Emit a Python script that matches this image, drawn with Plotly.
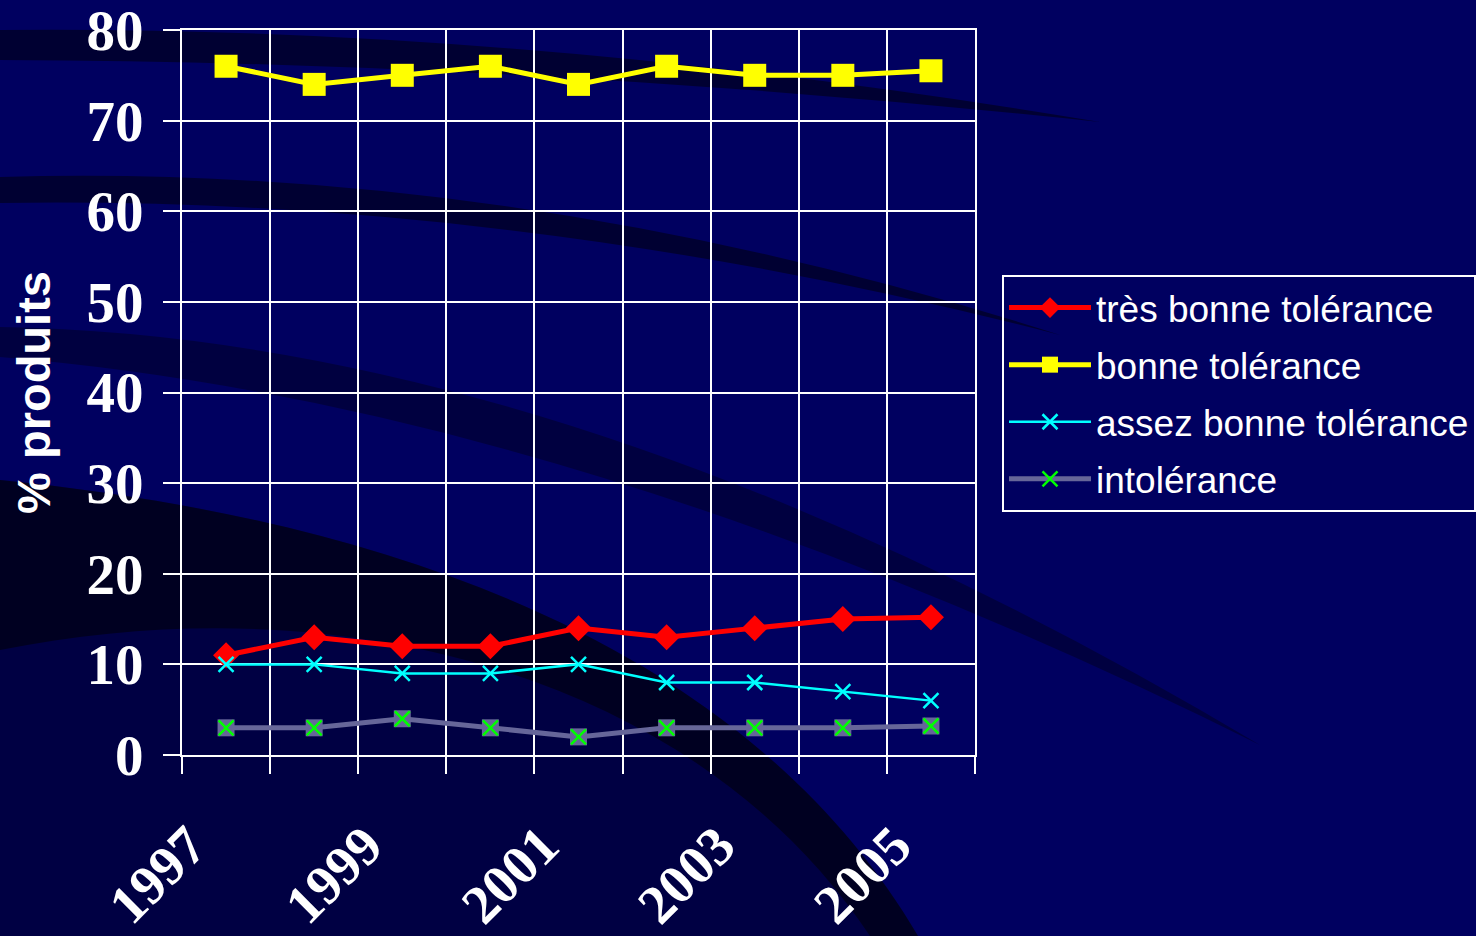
import plotly.graph_objects as go

# ---- data ----
years = [1997, 1998, 1999, 2000, 2001, 2002, 2003, 2004, 2005]
tres_bonne = [11, 13, 12, 12, 14, 13, 14, 15, 15.2]
bonne = [76, 74, 75, 76, 74, 76, 75, 75, 75.5]
assez_bonne = [10, 10, 9, 9, 10, 8, 8, 7, 6]
intolerance = [3, 3, 4, 3, 2, 3, 3, 3, 3.2]
year_ticks = [1997, 1999, 2001, 2003, 2005]
year_labels = ["1997", "1999", "2001", "2003", "2005"]
names = ["très bonne tolérance", "bonne tolérance", "assez bonne tolérance", "intolérance"]

# ---- geometry ----
W, H = 1476, 936
L, R, T, B = 182, 975, 30, 755
PW, PH = R - L, B - T


def P(px, py):
    return f"{(px - L) / PW:.5f},{(B - py) / PH:.5f}"


BG = "#000060"

shapes = []


def add_path(d, color):
    shapes.append(dict(type="path", xref="paper", yref="paper", path=d,
                       fillcolor=color, line=dict(width=0), layer="below"))


# decorative swooshes of the slide background (tapered ends)
add_path(f"M{P(0,30)} Q{P(520,25)} {P(1100,122)} Q{P(540,62)} {P(0,60)} Z",
         "rgba(0,0,12,0.55)")
add_path(f"M{P(0,177)} Q{P(520,162)} {P(1060,335)} Q{P(520,195)} {P(0,203)} Z",
         "rgba(0,0,12,0.55)")
add_path(f"M{P(0,327)} Q{P(575,336)} {P(1260,745)} Q{P(575,404)} {P(0,357)} Z",
         "rgba(0,0,12,0.38)")
add_path(f"M{P(0,480)} C{P(400,520)} {P(750,650)} {P(918,936)} L{P(0,936)} Z",
         "rgba(0,0,0,0.3)")
add_path(f"M{P(0,480)} C{P(400,520)} {P(750,650)} {P(918,936)} L{P(870,936)} C{P(700,680)} {P(350,580)} {P(0,650)} Z",
         "rgba(0,0,0,0.5)")

fig = go.Figure()

fig.add_trace(go.Scatter(
    x=years, y=tres_bonne, name=names[0], mode="lines+markers", legendgroup="a",
    line=dict(color="#FF0000", width=5),
    marker=dict(symbol="diamond", size=20, color="#FF0000")))
fig.add_trace(go.Scatter(
    x=years, y=bonne, name=names[1], mode="lines+markers", legendgroup="b",
    line=dict(color="#FFFF00", width=5),
    marker=dict(symbol="square", size=23, color="#FFFF00")))
fig.add_trace(go.Scatter(
    x=years, y=assez_bonne, name=names[2], mode="lines+markers", legendgroup="c",
    line=dict(color="#00FFFF", width=2.5),
    marker=dict(symbol="x-thin", size=15, color="#00FFFF",
                line=dict(color="#00FFFF", width=2.5))))
fig.add_trace(go.Scatter(
    x=years, y=intolerance, mode="markers", showlegend=False, legendgroup="d",
    marker=dict(symbol="square", size=17, color="#666699")))
fig.add_trace(go.Scatter(
    x=years, y=intolerance, name=names[3], mode="lines+markers", legendgroup="d",
    xaxis="x2",
    line=dict(color="#666699", width=5),
    marker=dict(symbol="x-thin", size=15, color="#00FF00",
                line=dict(color="#00FF00", width=2.5))))

axis_common = dict(color="white", linecolor="white", linewidth=2, zeroline=False)

fig.update_layout(
    width=W, height=H,
    margin=dict(l=L, r=W - R, t=T, b=H - B, autoexpand=False),
    paper_bgcolor=BG, plot_bgcolor="rgba(0,0,0,0)",
    shapes=shapes,
    showlegend=True,
    legend=dict(x=(1002 - L) / PW, y=(B - 275) / PH, xanchor="left", yanchor="top",
                bgcolor="rgba(0,0,0,0)", bordercolor="white", borderwidth=2,
                font=dict(family="Liberation Sans", size=37, color="white"),
                traceorder="grouped", tracegroupgap=6, itemwidth=82),
    xaxis=dict(type="linear", range=[years[0] - 0.5, years[-1] + 0.5],
               tick0=years[0] - 0.5, dtick=1, showticklabels=False,
               ticks="outside", ticklen=17, tickwidth=2, tickcolor="white",
               showgrid=True, gridcolor="white", gridwidth=2,
               showline=True, mirror=True, **axis_common),
    xaxis2=dict(type="linear", overlaying="x", anchor="y", side="bottom",
                range=[years[0] - 0.5, years[-1] + 0.5],
                tickmode="array", tickvals=year_ticks, ticktext=year_labels,
                tickangle=-45, ticks="", showgrid=False, showline=False,
                tickfont=dict(family="Liberation Serif", size=55, color="white", weight="bold"),
                ticklabelstandoff=46, ticklabelshift=-36, ticklabeloverflow="allow",
                color="white", zeroline=False),
    yaxis=dict(range=[0, 80], dtick=10, tick0=0,
               ticks="outside", ticklen=17, tickwidth=2, tickcolor="white",
               showgrid=True, gridcolor="white", gridwidth=2,
               showline=True, mirror=True,
               tickfont=dict(family="Liberation Serif", size=57, color="white", weight="bold"),
               ticklabelstandoff=8, ticklabeloverflow="allow",
               title=dict(text="% produits", standoff=21,
                          font=dict(family="Liberation Sans", size=47, color="white", weight="bold")),
               **axis_common),
)

fig.write_html("out.html", config={"displayModeBar": False},
               post_script="document.body.style.margin='0';document.body.style.background='#000060';")
